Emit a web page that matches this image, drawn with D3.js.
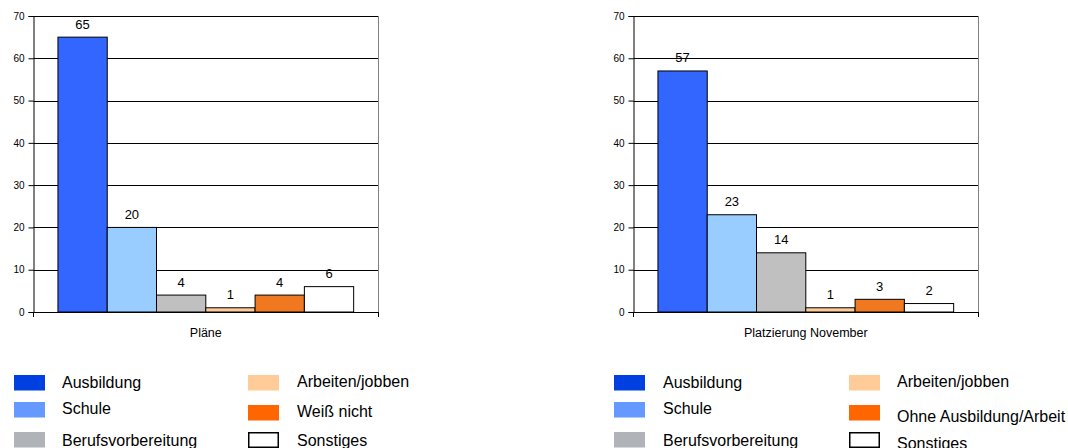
<!DOCTYPE html>
<html>
<head>
<meta charset="utf-8">
<script src="https://cdn.jsdelivr.net/npm/d3@7/dist/d3.min.js"></script>
<style>
  html, body { margin: 0; padding: 0; background: #fff; }
  svg { display: block; font-family: Arial, "Liberation Sans", sans-serif; }
</style>
</head>
<body>
<svg id="chart" width="1068" height="448"></svg>
<script>
// Categories (legend order) for each panel
const categoriesPlaene = ["Ausbildung", "Schule", "Berufsvorbereitung", "Arbeiten/jobben", "Weiß nicht", "Sonstiges"];
const categoriesPlatzierung = ["Ausbildung", "Schule", "Berufsvorbereitung", "Arbeiten/jobben", "Ohne Ausbildung/Arbeit", "Sonstiges"];

// Values per panel
const valuesPlaene = [65, 20, 4, 1, 4, 6];
const valuesPlatzierung = [57, 23, 14, 1, 3, 2];

// Panel titles (x-axis category labels)
const panelTitles = ["Pläne", "Platzierung November"];

// Y axis ticks
const yTicks = [0, 10, 20, 30, 40, 50, 60, 70];

// Colours
const barColors = ["#3366ff", "#99ccff", "#c0c0c0", "#ffcc99", "#f07820", "#ffffff"];
const legendColors = ["#0040e0", "#6699ff", "#b0b4b8", "#ffcc99", "#ff6600", "#ffffff"];

const svg = d3.select("#chart");

const panels = [
  { left: 33.3, cats: categoriesPlaene, vals: valuesPlaene, title: panelTitles[0],
    legendX: [14, 248], textX: [62, 297],
    legendRowsY: [[375, 402, 432], [375, 405, 432]],
    textBase: [[387.5, 414, 446], [387, 417, 446]] },
  { left: 633.3, cats: categoriesPlatzierung, vals: valuesPlatzierung, title: panelTitles[1],
    legendX: [614, 849], textX: [663, 897],
    legendRowsY: [[375, 402, 432], [375, 405, 432]],
    textBase: [[387.5, 414, 446], [387, 422, 449]] }
];

const plotW = 345, plotTop = 16, plotBottom = 312;

panels.forEach(p => {
  const g = svg.append("g");
  const x = d3.scaleBand().domain(p.cats).range([p.left, p.left + plotW]).paddingInner(0).paddingOuter(0.5);
  const y = d3.scaleLinear().domain([0, 70]).range([plotBottom, plotTop]);
  const right = p.left + plotW;

  // grid lines
  g.selectAll("line.grid").data(yTicks.filter(t => t > 0)).join("line")
    .attr("x1", p.left).attr("x2", right)
    .attr("y1", d => Math.round(y(d)) + 0.5).attr("y2", d => Math.round(y(d)) + 0.5)
    .attr("stroke", "#000").attr("stroke-width", 1);

  // right border
  g.append("line").attr("x1", Math.round(right) + 0.5).attr("x2", Math.round(right) + 0.5)
    .attr("y1", plotTop).attr("y2", plotBottom + 5)
    .attr("stroke", "#808080").attr("stroke-width", 1);

  // y axis
  const yAxis = d3.axisLeft(y).tickValues(yTicks).tickSize(5).tickPadding(4).tickFormat(d3.format("d"));
  const ya = g.append("g").attr("transform", `translate(${Math.round(p.left) + 0.5},0)`).call(yAxis);
  ya.select(".domain").attr("stroke", "#000");
  ya.selectAll(".tick line").attr("stroke", "#000");
  ya.selectAll(".tick text").attr("font-size", 10).attr("fill", "#000")
    .attr("font-family", "Arial, 'Liberation Sans', sans-serif");

  // bars
  g.selectAll("rect.bar").data(p.vals).join("rect")
    .attr("x", (d, i) => x(p.cats[i]))
    .attr("y", d => y(d))
    .attr("width", x.bandwidth())
    .attr("height", d => y(0) - y(d))
    .attr("fill", (d, i) => barColors[i])
    .attr("stroke", "#000").attr("stroke-width", 1);

  // x axis line with boundary ticks
  g.append("line").attr("x1", p.left).attr("x2", right + 0.5)
    .attr("y1", plotBottom + 0.5).attr("y2", plotBottom + 0.5)
    .attr("stroke", "#000").attr("stroke-width", 1);
  [p.left, right].forEach(xx => {
    g.append("line").attr("x1", Math.round(xx) + 0.5).attr("x2", Math.round(xx) + 0.5)
      .attr("y1", plotBottom).attr("y2", plotBottom + 5)
      .attr("stroke", "#000").attr("stroke-width", 1);
  });

  // value labels
  g.selectAll("text.val").data(p.vals).join("text")
    .attr("x", (d, i) => x(p.cats[i]) + x.bandwidth() / 2)
    .attr("y", d => y(d) - 8.5)
    .attr("text-anchor", "middle").attr("font-size", 13).attr("fill", "#000")
    .text(d => d);

  // category label
  g.append("text").attr("x", p.left + plotW / 2).attr("y", 336.5)
    .attr("text-anchor", "middle").attr("font-size", 12.5).attr("fill", "#000")
    .text(p.title);

  // legend
  p.cats.forEach((c, i) => {
    const col = Math.floor(i / 3), row = i % 3;
    const ly = p.legendRowsY[col][row];
    const isOutline = i === 5;
    g.append("rect")
      .attr("x", p.legendX[col] + (isOutline ? 0.75 : 0)).attr("y", ly + (isOutline ? 0.75 : 0))
      .attr("width", isOutline ? 29.5 : 31).attr("height", isOutline ? 14.5 : 15.5)
      .attr("fill", legendColors[i])
      .attr("stroke", isOutline ? "#000" : "none").attr("stroke-width", 1.5);
    g.append("text").attr("x", p.textX[col]).attr("y", p.textBase[col][row])
      .attr("font-size", 16).attr("fill", "#000").text(c);
  });
});
</script>
</body>
</html>
